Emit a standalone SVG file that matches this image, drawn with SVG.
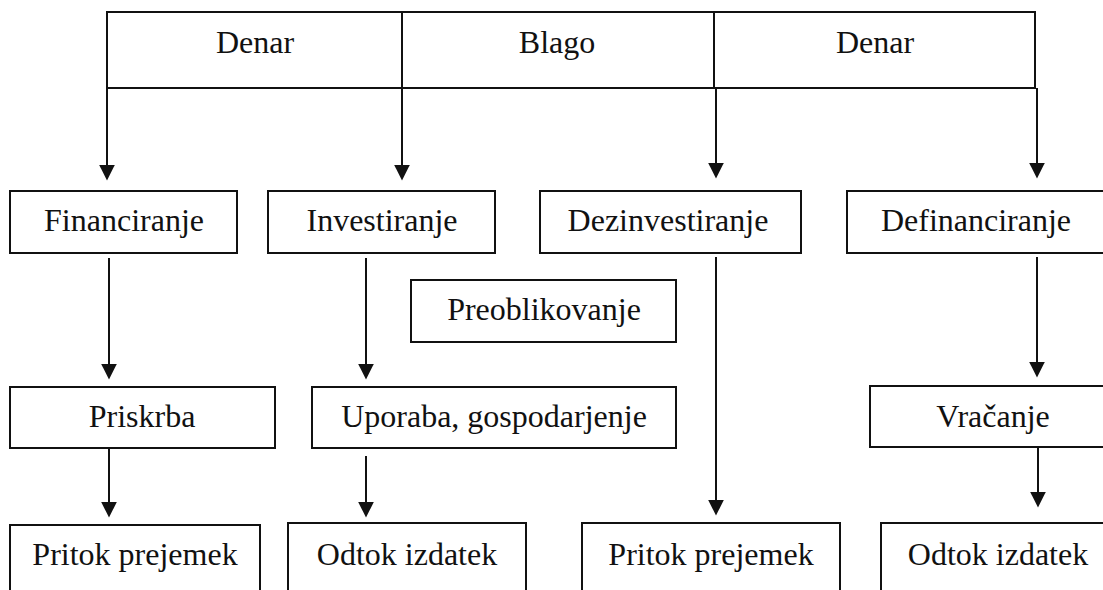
<svg xmlns="http://www.w3.org/2000/svg" width="1103" height="590" viewBox="0 0 1103 590">
  <defs>
    <style>
      .box { fill: #ffffff; stroke: #111111; stroke-width: 2; }
      .lbl { font-family: "Liberation Serif", "Times New Roman", serif; font-size: 32px; fill: #111111; text-anchor: middle; }
      .con { stroke: #111111; stroke-width: 2; fill: none; }
    </style>
    <marker id="arr" markerUnits="userSpaceOnUse" markerWidth="16" markerHeight="16" viewBox="0 0 14 14" refX="10" refY="7" orient="auto">
      <path d="M0,0 L14,7 L0,14 Z" fill="#111111"/>
    </marker>
  </defs>
  <rect x="0" y="0" width="1103" height="590" fill="#ffffff"/>

  <g id="top">
    <rect class="box" x="107" y="12" width="928" height="76"/>
    <line class="con" x1="402" y1="12" x2="402" y2="88"/>
    <line class="con" x1="714" y1="12" x2="714" y2="88"/>
    <text class="lbl" x="255" y="53">Denar</text>
    <text class="lbl" x="557" y="53">Blago</text>
    <text class="lbl" x="875" y="53">Denar</text>
  </g>

  <g id="financiranje">
    <rect class="box" x="10" y="191" width="227" height="62"/>
    <text class="lbl" x="124" y="231">Financiranje</text>
  </g>
  <g id="investiranje">
    <rect class="box" x="268" y="191" width="227" height="62"/>
    <text class="lbl" x="382" y="231">Investiranje</text>
  </g>
  <g id="dezinvestiranje">
    <rect class="box" x="540" y="191" width="261" height="62"/>
    <text class="lbl" x="668" y="231">Dezinvestiranje</text>
  </g>
  <g id="definanciranje">
    <rect class="box" x="847" y="191" width="270" height="62"/>
    <text class="lbl" x="976" y="231">Definanciranje</text>
  </g>

  <g id="preoblikovanje">
    <rect class="box" x="411" y="280" width="265" height="62"/>
    <text class="lbl" x="544" y="320">Preoblikovanje</text>
  </g>

  <g id="priskrba">
    <rect class="box" x="10" y="387" width="265" height="61"/>
    <text class="lbl" x="142" y="427">Priskrba</text>
  </g>
  <g id="uporaba">
    <rect class="box" x="312" y="387" width="364" height="61"/>
    <text class="lbl" x="494" y="427">Uporaba, gospodarjenje</text>
  </g>
  <g id="vracanje">
    <rect class="box" x="870" y="386" width="250" height="61"/>
    <text class="lbl" x="993" y="427">Vračanje</text>
  </g>

  <g id="pritok1">
    <rect class="box" x="10" y="525" width="250" height="80"/>
    <text class="lbl" x="135" y="565">Pritok prejemek</text>
  </g>
  <g id="odtok1">
    <rect class="box" x="288" y="523" width="238" height="80"/>
    <text class="lbl" x="407" y="565">Odtok izdatek</text>
  </g>
  <g id="pritok2">
    <rect class="box" x="582" y="523" width="258" height="80"/>
    <text class="lbl" x="711" y="565">Pritok prejemek</text>
  </g>
  <g id="odtok2">
    <rect class="box" x="881" y="523" width="240" height="80"/>
    <text class="lbl" x="998" y="565">Odtok izdatek</text>
  </g>

  <g id="connectors">
    <line class="con" x1="107" y1="88" x2="107" y2="176" marker-end="url(#arr)"/>
    <line class="con" x1="402" y1="88" x2="402" y2="176" marker-end="url(#arr)"/>
    <line class="con" x1="716" y1="88" x2="716" y2="174" marker-end="url(#arr)"/>
    <line class="con" x1="1037" y1="88" x2="1037" y2="174" marker-end="url(#arr)"/>

    <line class="con" x1="109" y1="258" x2="109" y2="375" marker-end="url(#arr)"/>
    <line class="con" x1="366" y1="258" x2="366" y2="375" marker-end="url(#arr)"/>
    <line class="con" x1="716" y1="257" x2="716" y2="511" marker-end="url(#arr)"/>
    <line class="con" x1="1037" y1="257" x2="1037" y2="373" marker-end="url(#arr)"/>

    <line class="con" x1="109" y1="449" x2="109" y2="513" marker-end="url(#arr)"/>
    <line class="con" x1="366" y1="456" x2="366" y2="513" marker-end="url(#arr)"/>
    <line class="con" x1="1038" y1="447" x2="1038" y2="503" marker-end="url(#arr)"/>
  </g>
</svg>
